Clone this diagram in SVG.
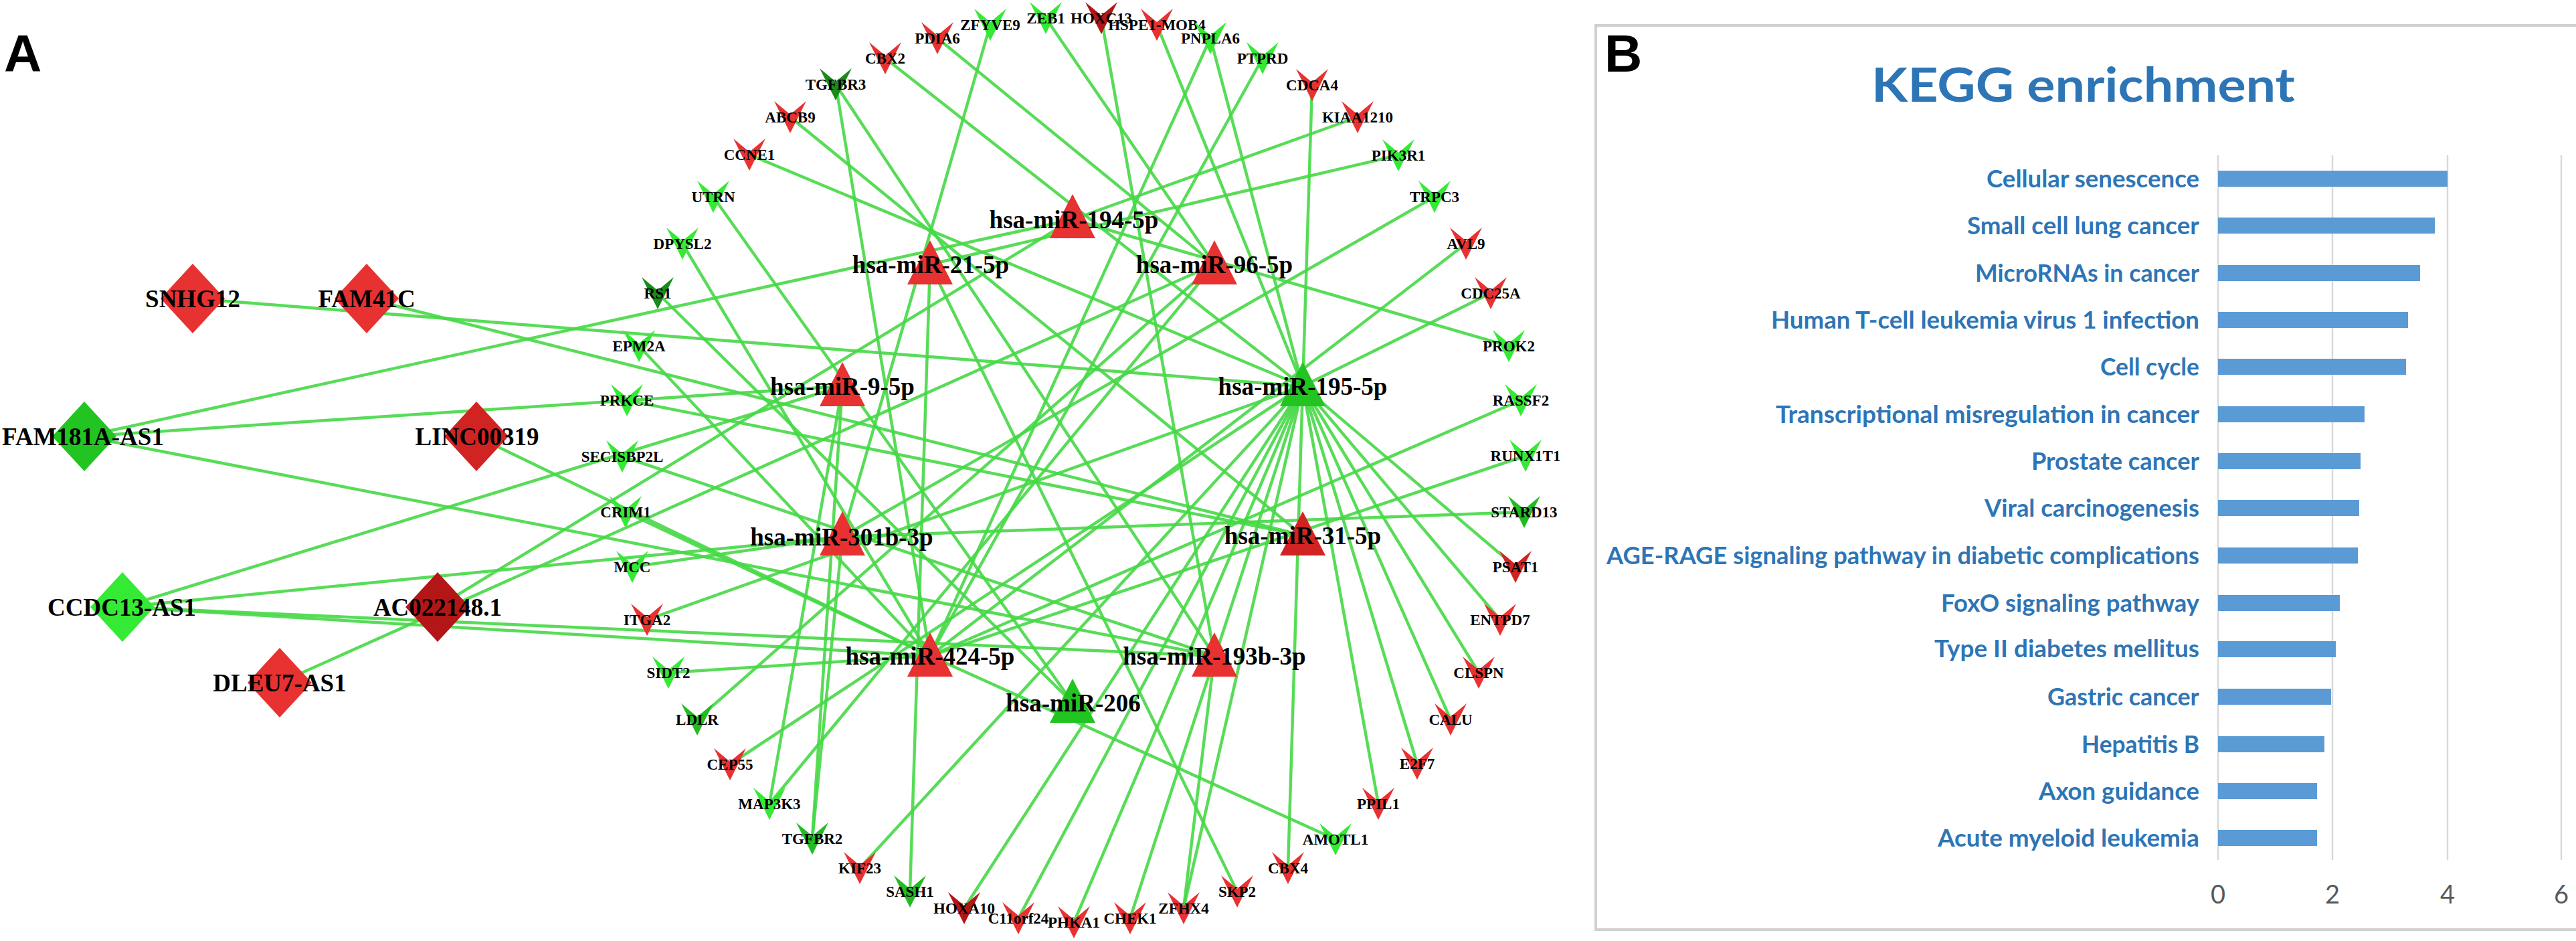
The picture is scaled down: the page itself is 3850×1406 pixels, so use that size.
<svg xmlns="http://www.w3.org/2000/svg" xmlns:xlink="http://www.w3.org/1999/xlink" width="3850" height="1406" viewBox="0 0 3850 1406">
<defs>
<style>
.e{stroke:#46d846;stroke-width:4.5;stroke-opacity:.9;fill:none}
.r{fill:#e83131}.dr{fill:#b31616}.r2{fill:#d22323}.g{fill:#34ea34}.mg{fill:#22bb22}.dg{fill:#1b8a1b}.gd{fill:#22c422}
.gl{font-family:"Liberation Serif",serif;font-weight:bold;font-size:23px;text-anchor:middle;fill:#000}
.ml{font-family:"Liberation Serif",serif;font-weight:bold;font-size:37px;text-anchor:middle;fill:#000}
.cat{font-family:Lato,"Liberation Sans",sans-serif;font-weight:bold;font-size:37px;fill:#2e75b6;text-anchor:end}
.tick{font-family:Lato,"Liberation Sans",sans-serif;font-size:38px;fill:#595959;text-anchor:middle}
.grid{stroke:#d9d9d9;stroke-width:2.5}
.bar{fill:#5b9bd5}
.pl{font-family:"Liberation Sans",Arial,sans-serif;font-weight:bold;font-size:78px;fill:#000}
</style>
<polygon id="v" points="-24,-24 0,-4 24,-24 0,24"/>
<polygon id="t" points="0,-36 34,30 -34,30"/>
<polygon id="d" points="0,-52 48,0 0,52 -48,0"/>
</defs>
<rect width="3850" height="1406" fill="#fff"/>
<text class="pl" x="6" y="107">A</text>

<g id="edges">
<line class="e" x1="288" y1="446" x2="1947" y2="577"/>
<line class="e" x1="548" y1="446" x2="1947" y2="800"/>
<line class="e" x1="126" y1="652" x2="1603" y2="328"/>
<line class="e" x1="126" y1="652" x2="1259" y2="577"/>
<line class="e" x1="126" y1="652" x2="1815" y2="980"/>
<line class="e" x1="712" y1="652" x2="1390" y2="980"/>
<line class="e" x1="183" y1="907" x2="1259" y2="577"/>
<line class="e" x1="183" y1="907" x2="1259" y2="802"/>
<line class="e" x1="183" y1="907" x2="1390" y2="980"/>
<line class="e" x1="183" y1="907" x2="1815" y2="980"/>
<line class="e" x1="654" y1="907" x2="1603" y2="328"/>
<line class="e" x1="418" y1="1020" x2="1815" y2="395"/>
<line class="e" x1="1401" y1="57" x2="1815" y2="395"/>
<line class="e" x1="1480" y1="37" x2="1259" y2="802"/>
<line class="e" x1="1563" y1="27" x2="1815" y2="395"/>
<line class="e" x1="1646" y1="27" x2="1815" y2="980"/>
<line class="e" x1="1729" y1="37" x2="1947" y2="577"/>
<line class="e" x1="1809" y1="57" x2="1947" y2="577"/>
<line class="e" x1="1809" y1="57" x2="1390" y2="980"/>
<line class="e" x1="1887" y1="87" x2="1390" y2="980"/>
<line class="e" x1="1961" y1="127" x2="1947" y2="577"/>
<line class="e" x1="2029" y1="175" x2="1603" y2="328"/>
<line class="e" x1="2090" y1="232" x2="1390" y2="395"/>
<line class="e" x1="2144" y1="294" x2="1259" y2="802"/>
<line class="e" x1="2191" y1="364" x2="1390" y2="980"/>
<line class="e" x1="2228" y1="438" x2="1947" y2="577"/>
<line class="e" x1="2255" y1="517" x2="1603" y2="328"/>
<line class="e" x1="2273" y1="598" x2="1390" y2="980"/>
<line class="e" x1="2280" y1="681" x2="1390" y2="980"/>
<line class="e" x1="2278" y1="765" x2="1259" y2="802"/>
<line class="e" x1="2265" y1="847" x2="1947" y2="577"/>
<line class="e" x1="2242" y1="926" x2="1947" y2="577"/>
<line class="e" x1="2210" y1="1005" x2="1947" y2="577"/>
<line class="e" x1="2168" y1="1075" x2="1947" y2="577"/>
<line class="e" x1="2118" y1="1141" x2="1947" y2="577"/>
<line class="e" x1="2060" y1="1201" x2="1947" y2="577"/>
<line class="e" x1="1996" y1="1254" x2="1390" y2="980"/>
<line class="e" x1="1925" y1="1297" x2="1947" y2="577"/>
<line class="e" x1="1849" y1="1332" x2="1390" y2="395"/>
<line class="e" x1="1769" y1="1357" x2="1947" y2="577"/>
<line class="e" x1="1769" y1="1357" x2="1815" y2="980"/>
<line class="e" x1="1689" y1="1372" x2="1947" y2="577"/>
<line class="e" x1="1605" y1="1378" x2="1947" y2="577"/>
<line class="e" x1="1522" y1="1372" x2="1947" y2="577"/>
<line class="e" x1="1441" y1="1357" x2="1947" y2="577"/>
<line class="e" x1="1360" y1="1332" x2="1390" y2="395"/>
<line class="e" x1="1285" y1="1297" x2="1947" y2="577"/>
<line class="e" x1="1214" y1="1253" x2="1259" y2="577"/>
<line class="e" x1="1214" y1="1253" x2="1259" y2="802"/>
<line class="e" x1="1150" y1="1201" x2="1259" y2="577"/>
<line class="e" x1="1150" y1="1201" x2="1815" y2="395"/>
<line class="e" x1="1091" y1="1142" x2="1947" y2="577"/>
<line class="e" x1="1042" y1="1075" x2="1815" y2="395"/>
<line class="e" x1="999" y1="1005" x2="1390" y2="980"/>
<line class="e" x1="967" y1="926" x2="1947" y2="577"/>
<line class="e" x1="945" y1="847" x2="1259" y2="802"/>
<line class="e" x1="935" y1="765" x2="1390" y2="980"/>
<line class="e" x1="930" y1="682" x2="1815" y2="980"/>
<line class="e" x1="937" y1="598" x2="1947" y2="800"/>
<line class="e" x1="955" y1="517" x2="1390" y2="980"/>
<line class="e" x1="983" y1="438" x2="1603" y2="1050"/>
<line class="e" x1="1020" y1="364" x2="1390" y2="980"/>
<line class="e" x1="1066" y1="294" x2="1603" y2="1050"/>
<line class="e" x1="1120" y1="231" x2="1947" y2="577"/>
<line class="e" x1="1181" y1="175" x2="1947" y2="800"/>
<line class="e" x1="1249" y1="126" x2="1390" y2="980"/>
<line class="e" x1="1249" y1="126" x2="1815" y2="980"/>
<line class="e" x1="1323" y1="87" x2="1947" y2="577"/>
</g>

<g id="lncRNA-nodes">
<g id="SNHG12"><use xlink:href="#d" x="288" y="446" class="r"/><text class="ml" x="288" y="459">SNHG12</text></g>
<g id="FAM41C"><use xlink:href="#d" x="548" y="446" class="r"/><text class="ml" x="548" y="459">FAM41C</text></g>
<g id="FAM181A-AS1"><use xlink:href="#d" x="126" y="652" class="gd"/><text class="ml" x="124" y="665">FAM181A-AS1</text></g>
<g id="LINC00319"><use xlink:href="#d" x="712" y="652" class="r2"/><text class="ml" x="713" y="665">LINC00319</text></g>
<g id="CCDC13-AS1"><use xlink:href="#d" x="183" y="907" class="g"/><text class="ml" x="182" y="920">CCDC13-AS1</text></g>
<g id="AC022148.1"><use xlink:href="#d" x="654" y="907" class="dr"/><text class="ml" x="654" y="920">AC022148.1</text></g>
<g id="DLEU7-AS1"><use xlink:href="#d" x="418" y="1020" class="r"/><text class="ml" x="418" y="1033">DLEU7-AS1</text></g>
</g>

<g id="miRNA-nodes">
<g id="miR-194-5p"><use xlink:href="#t" x="1603" y="326" class="r"/><text class="ml" x="1605" y="341">hsa-miR-194-5p</text></g>
<g id="miR-21-5p"><use xlink:href="#t" x="1390" y="395" class="r"/><text class="ml" x="1391" y="408">hsa-miR-21-5p</text></g>
<g id="miR-96-5p"><use xlink:href="#t" x="1815" y="395" class="r"/><text class="ml" x="1815" y="408">hsa-miR-96-5p</text></g>
<g id="miR-9-5p"><use xlink:href="#t" x="1259" y="577" class="r"/><text class="ml" x="1259" y="590">hsa-miR-9-5p</text></g>
<g id="miR-195-5p"><use xlink:href="#t" x="1947" y="577" class="gd"/><text class="ml" x="1947" y="590">hsa-miR-195-5p</text></g>
<g id="miR-301b-3p"><use xlink:href="#t" x="1259" y="800" class="r"/><text class="ml" x="1258" y="815">hsa-miR-301b-3p</text></g>
<g id="miR-31-5p"><use xlink:href="#t" x="1947" y="800" class="r2"/><text class="ml" x="1947" y="813">hsa-miR-31-5p</text></g>
<g id="miR-424-5p"><use xlink:href="#t" x="1390" y="981" class="r"/><text class="ml" x="1390" y="993">hsa-miR-424-5p</text></g>
<g id="miR-193b-3p"><use xlink:href="#t" x="1815" y="981" class="r"/><text class="ml" x="1815" y="993">hsa-miR-193b-3p</text></g>
<g id="miR-206"><use xlink:href="#t" x="1603" y="1050" class="gd"/><text class="ml" x="1604" y="1063">hsa-miR-206</text></g>
</g>

<g id="gene-nodes">
<g id="ZFYVE9"><use xlink:href="#v" x="1480" y="37" class="g"/><text class="gl" x="1480" y="45">ZFYVE9</text></g>
<g id="ZEB1"><use xlink:href="#v" x="1563" y="27" class="g"/><text class="gl" x="1563" y="35">ZEB1</text></g>
<g id="HOXC13"><use xlink:href="#v" x="1646" y="27" class="dr"/><text class="gl" x="1646" y="35">HOXC13</text></g>
<g id="HSPE1-MOB4"><use xlink:href="#v" x="1729" y="37" class="r"/><text class="gl" x="1729" y="45">HSPE1-MOB4</text></g>
<g id="PNPLA6"><use xlink:href="#v" x="1809" y="57" class="g"/><text class="gl" x="1809" y="65">PNPLA6</text></g>
<g id="PTPRD"><use xlink:href="#v" x="1887" y="87" class="g"/><text class="gl" x="1887" y="95">PTPRD</text></g>
<g id="CDCA4"><use xlink:href="#v" x="1961" y="127" class="r"/><text class="gl" x="1961" y="135">CDCA4</text></g>
<g id="KIAA1210"><use xlink:href="#v" x="2029" y="175" class="r"/><text class="gl" x="2029" y="183">KIAA1210</text></g>
<g id="PIK3R1"><use xlink:href="#v" x="2090" y="232" class="g"/><text class="gl" x="2090" y="240">PIK3R1</text></g>
<g id="TRPC3"><use xlink:href="#v" x="2144" y="294" class="g"/><text class="gl" x="2144" y="302">TRPC3</text></g>
<g id="AVL9"><use xlink:href="#v" x="2191" y="364" class="r"/><text class="gl" x="2191" y="372">AVL9</text></g>
<g id="CDC25A"><use xlink:href="#v" x="2228" y="438" class="r"/><text class="gl" x="2228" y="446">CDC25A</text></g>
<g id="PROK2"><use xlink:href="#v" x="2255" y="517" class="g"/><text class="gl" x="2255" y="525">PROK2</text></g>
<g id="RASSF2"><use xlink:href="#v" x="2273" y="598" class="g"/><text class="gl" x="2273" y="606">RASSF2</text></g>
<g id="RUNX1T1"><use xlink:href="#v" x="2280" y="681" class="g"/><text class="gl" x="2280" y="689">RUNX1T1</text></g>
<g id="STARD13"><use xlink:href="#v" x="2278" y="765" class="mg"/><text class="gl" x="2278" y="773">STARD13</text></g>
<g id="PSAT1"><use xlink:href="#v" x="2265" y="847" class="r2"/><text class="gl" x="2265" y="855">PSAT1</text></g>
<g id="ENTPD7"><use xlink:href="#v" x="2242" y="926" class="r"/><text class="gl" x="2242" y="934">ENTPD7</text></g>
<g id="CLSPN"><use xlink:href="#v" x="2210" y="1005" class="r"/><text class="gl" x="2210" y="1013">CLSPN</text></g>
<g id="CALU"><use xlink:href="#v" x="2168" y="1075" class="r"/><text class="gl" x="2168" y="1083">CALU</text></g>
<g id="E2F7"><use xlink:href="#v" x="2118" y="1141" class="r"/><text class="gl" x="2118" y="1149">E2F7</text></g>
<g id="PPIL1"><use xlink:href="#v" x="2060" y="1201" class="r"/><text class="gl" x="2060" y="1209">PPIL1</text></g>
<g id="AMOTL1"><use xlink:href="#v" x="1996" y="1254" class="g"/><text class="gl" x="1996" y="1262">AMOTL1</text></g>
<g id="CBX4"><use xlink:href="#v" x="1925" y="1297" class="r"/><text class="gl" x="1925" y="1305">CBX4</text></g>
<g id="SKP2"><use xlink:href="#v" x="1849" y="1332" class="r"/><text class="gl" x="1849" y="1340">SKP2</text></g>
<g id="ZFHX4"><use xlink:href="#v" x="1769" y="1357" class="r"/><text class="gl" x="1769" y="1365">ZFHX4</text></g>
<g id="CHEK1"><use xlink:href="#v" x="1689" y="1372" class="r"/><text class="gl" x="1689" y="1380">CHEK1</text></g>
<g id="PHKA1"><use xlink:href="#v" x="1605" y="1378" class="r"/><text class="gl" x="1605" y="1386">PHKA1</text></g>
<g id="C11orf24"><use xlink:href="#v" x="1522" y="1372" class="r"/><text class="gl" x="1522" y="1380">C11orf24</text></g>
<g id="HOXA10"><use xlink:href="#v" x="1441" y="1357" class="dr"/><text class="gl" x="1441" y="1365">HOXA10</text></g>
<g id="SASH1"><use xlink:href="#v" x="1360" y="1332" class="mg"/><text class="gl" x="1360" y="1340">SASH1</text></g>
<g id="KIF23"><use xlink:href="#v" x="1285" y="1297" class="r"/><text class="gl" x="1285" y="1305">KIF23</text></g>
<g id="TGFBR2"><use xlink:href="#v" x="1214" y="1253" class="mg"/><text class="gl" x="1214" y="1261">TGFBR2</text></g>
<g id="MAP3K3"><use xlink:href="#v" x="1150" y="1201" class="g"/><text class="gl" x="1150" y="1209">MAP3K3</text></g>
<g id="CEP55"><use xlink:href="#v" x="1091" y="1142" class="r"/><text class="gl" x="1091" y="1150">CEP55</text></g>
<g id="LDLR"><use xlink:href="#v" x="1042" y="1075" class="mg"/><text class="gl" x="1042" y="1083">LDLR</text></g>
<g id="SIDT2"><use xlink:href="#v" x="999" y="1005" class="g"/><text class="gl" x="999" y="1013">SIDT2</text></g>
<g id="ITGA2"><use xlink:href="#v" x="967" y="926" class="r"/><text class="gl" x="967" y="934">ITGA2</text></g>
<g id="MCC"><use xlink:href="#v" x="945" y="847" class="g"/><text class="gl" x="945" y="855">MCC</text></g>
<g id="CRIM1"><use xlink:href="#v" x="935" y="765" class="g"/><text class="gl" x="935" y="773">CRIM1</text></g>
<g id="SECISBP2L"><use xlink:href="#v" x="930" y="682" class="g"/><text class="gl" x="930" y="690">SECISBP2L</text></g>
<g id="PRKCE"><use xlink:href="#v" x="937" y="598" class="g"/><text class="gl" x="937" y="606">PRKCE</text></g>
<g id="EPM2A"><use xlink:href="#v" x="955" y="517" class="g"/><text class="gl" x="955" y="525">EPM2A</text></g>
<g id="RS1"><use xlink:href="#v" x="983" y="438" class="dg"/><text class="gl" x="983" y="446">RS1</text></g>
<g id="DPYSL2"><use xlink:href="#v" x="1020" y="364" class="g"/><text class="gl" x="1020" y="372">DPYSL2</text></g>
<g id="UTRN"><use xlink:href="#v" x="1066" y="294" class="g"/><text class="gl" x="1066" y="302">UTRN</text></g>
<g id="CCNE1"><use xlink:href="#v" x="1120" y="231" class="r"/><text class="gl" x="1120" y="239">CCNE1</text></g>
<g id="ABCB9"><use xlink:href="#v" x="1181" y="175" class="r"/><text class="gl" x="1181" y="183">ABCB9</text></g>
<g id="TGFBR3"><use xlink:href="#v" x="1249" y="126" class="dg"/><text class="gl" x="1249" y="134">TGFBR3</text></g>
<g id="CBX2"><use xlink:href="#v" x="1323" y="87" class="r"/><text class="gl" x="1323" y="95">CBX2</text></g>
<g id="PDIA6"><use xlink:href="#v" x="1401" y="57" class="r"/><text class="gl" x="1401" y="65">PDIA6</text></g>
</g>

<g id="panelB">
<rect x="2385" y="38" width="1480" height="1351" fill="none" stroke="#d0d0d0" stroke-width="4"/>
<text class="pl" x="2398" y="107">B</text>
<text x="2797" y="152" textLength="633" lengthAdjust="spacingAndGlyphs" font-family="Lato,'Liberation Sans',sans-serif" font-weight="bold" font-size="70" fill="#2e75b6">KEGG enrichment</text>
<g id="grid">
<line class="grid" x1="3315" y1="232" x2="3315" y2="1285"/>
<line class="grid" x1="3486" y1="232" x2="3486" y2="1285"/>
<line class="grid" x1="3658" y1="232" x2="3658" y2="1285"/>
<line class="grid" x1="3828" y1="232" x2="3828" y2="1285"/>
</g>
<g id="bars">
<rect class="bar" x="3315" y="255" width="343" height="24"/>
<rect class="bar" x="3315" y="325" width="324" height="24"/>
<rect class="bar" x="3315" y="396" width="302" height="24"/>
<rect class="bar" x="3315" y="466" width="284" height="24"/>
<rect class="bar" x="3315" y="536" width="281" height="24"/>
<rect class="bar" x="3315" y="607" width="219" height="24"/>
<rect class="bar" x="3315" y="677" width="213" height="24"/>
<rect class="bar" x="3315" y="747" width="211" height="24"/>
<rect class="bar" x="3315" y="818" width="209" height="24"/>
<rect class="bar" x="3315" y="889" width="182" height="24"/>
<rect class="bar" x="3315" y="958" width="176" height="24"/>
<rect class="bar" x="3315" y="1029" width="169" height="24"/>
<rect class="bar" x="3315" y="1100" width="159" height="24"/>
<rect class="bar" x="3315" y="1170" width="148" height="24"/>
<rect class="bar" x="3315" y="1240" width="148" height="24"/>
</g>
<g id="labels">
<text class="cat" x="3287" y="280" textLength="318" lengthAdjust="spacingAndGlyphs">Cellular senescence</text>
<text class="cat" x="3287" y="350" textLength="347" lengthAdjust="spacingAndGlyphs">Small cell lung cancer</text>
<text class="cat" x="3287" y="421" textLength="335" lengthAdjust="spacingAndGlyphs">MicroRNAs in cancer</text>
<text class="cat" x="3287" y="491" textLength="640" lengthAdjust="spacingAndGlyphs">Human T-cell leukemia virus 1 infection</text>
<text class="cat" x="3287" y="561" textLength="148" lengthAdjust="spacingAndGlyphs">Cell cycle</text>
<text class="cat" x="3287" y="632" textLength="633" lengthAdjust="spacingAndGlyphs">Transcriptional misregulation in cancer</text>
<text class="cat" x="3287" y="702" textLength="251" lengthAdjust="spacingAndGlyphs">Prostate cancer</text>
<text class="cat" x="3287" y="772" textLength="321" lengthAdjust="spacingAndGlyphs">Viral carcinogenesis</text>
<text class="cat" x="3287" y="843" textLength="886" lengthAdjust="spacingAndGlyphs">AGE-RAGE signaling pathway in diabetic complications</text>
<text class="cat" x="3287" y="914" textLength="386" lengthAdjust="spacingAndGlyphs">FoxO signaling pathway</text>
<text class="cat" x="3287" y="982" textLength="396" lengthAdjust="spacingAndGlyphs">Type II diabetes mellitus</text>
<text class="cat" x="3287" y="1054" textLength="227" lengthAdjust="spacingAndGlyphs">Gastric cancer</text>
<text class="cat" x="3287" y="1125" textLength="176" lengthAdjust="spacingAndGlyphs">Hepatitis B</text>
<text class="cat" x="3287" y="1195" textLength="240" lengthAdjust="spacingAndGlyphs">Axon guidance</text>
<text class="cat" x="3287" y="1265" textLength="391" lengthAdjust="spacingAndGlyphs">Acute myeloid leukemia</text>
</g>
<g id="ticks">
<text class="tick" x="3315" y="1350">0</text>
<text class="tick" x="3486" y="1350">2</text>
<text class="tick" x="3658" y="1350">4</text>
<text class="tick" x="3828" y="1350">6</text>
</g>
</g>
</svg>
